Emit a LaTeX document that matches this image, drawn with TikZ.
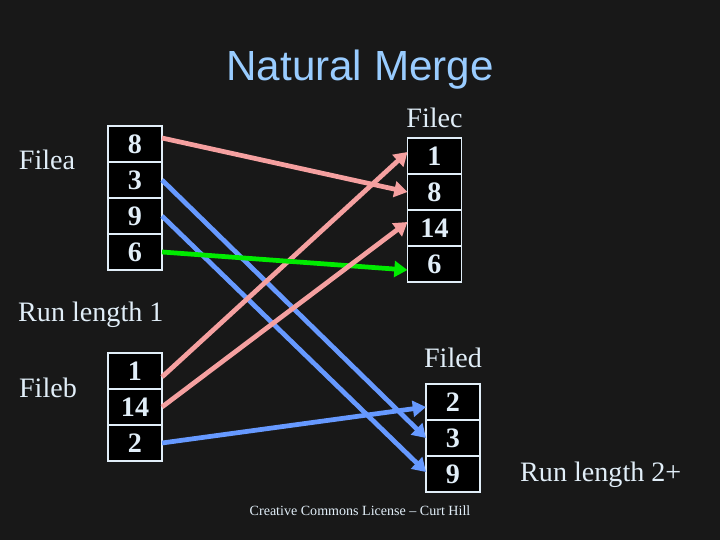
\documentclass[tikz,border=0pt]{standalone}
\usepackage{fontspec}
\setmainfont{Liberation Serif}
\newfontfamily\titlefont{Liberation Sans}
\usetikzlibrary{arrows.meta,positioning}

\definecolor{slidebg}{RGB}{24,24,24}
\definecolor{titleblue}{RGB}{153,204,255}
\definecolor{paletext}{RGB}{225,238,248}
\definecolor{runpink}{RGB}{245,160,160}
\definecolor{runblue}{RGB}{102,153,255}
\definecolor{rungreen}{RGB}{0,235,0}

\begin{document}
\begin{tikzpicture}[
    cell/.style={rectangle, draw=paletext, line width=0.9pt, fill=black, minimum width=1.08cm, minimum height=0.72cm, inner sep=0pt, outer sep=0pt, text=paletext, font=\fontsize{16}{16}\selectfont\bfseries},
    tag/.style={text=paletext, font=\fontsize{16}{18}\selectfont},
    arrow/.style={-{Triangle[length=7.5pt, width=9pt]}, line width=2.7pt}
]

% Slide background
\fill[slidebg] (0,0) rectangle (14.4,-10.8);
\useasboundingbox (0,0) rectangle (14.4,-10.8);

\node[text=titleblue, font=\titlefont\fontsize{24}{28}\selectfont] (title) at (7.2,-1.4) {Natural Merge};

% Input files
\node[tag] (filea) at (0.94,-3.2) {Filea};
\node[cell] (a1) at (2.7,-2.88) {8};
\node[cell, below=0pt of a1] (a2) {3};
\node[cell, below=0pt of a2] (a3) {9};
\node[cell, below=0pt of a3] (a4) {6};

\node[tag, anchor=west] (run1) at (0.24,-6.3) {Run length 1};

\node[tag] (fileb) at (0.96,-7.76) {Fileb};
\node[cell] (b1) at (2.7,-7.42) {1};
\node[cell, below=0pt of b1] (b2) {14};
\node[cell, below=0pt of b2] (b3) {2};

% Output files
\node[cell] (c1) at (8.69,-3.12) {1};
\node[cell, below=0pt of c1] (c2) {8};
\node[cell, below=0pt of c2] (c3) {14};
\node[cell, below=0pt of c3] (c4) {6};
\node[tag, above=0.08cm of c1] (filec) {Filec};

\node[cell] (d1) at (9.06,-8.04) {2};
\node[cell, below=0pt of d1] (d2) {3};
\node[cell, below=0pt of d2] (d3) {9};
\node[tag, above=0.2cm of d1] (filed) {Filed};

\node[tag, anchor=west] (run2) at (10.28,-9.5) {Run length 2+};

\node[text=paletext, font=\fontsize{8}{10}\selectfont] (credit) at (7.2,-10.22) {Creative Commons License -- Curt Hill};

% Merge moves
\draw[arrow, runblue] (a2.east) -- (d2.west);
\draw[arrow, runblue] (a3.east) -- ([yshift=0.04cm]d3.west);
\draw[arrow, runblue] (b3.east) -- ([yshift=-0.1cm]d1.west);

\draw[arrow, runpink] ([yshift=0.12cm]a1.east) -- (c2.west);
\draw[arrow, runpink] ([yshift=-0.12cm]b1.east) -- ([yshift=0.08cm]c1.west);
\draw[arrow, rungreen] (a4.east) -- ([yshift=-0.12cm]c4.west);
\draw[arrow, runpink] (b2.east) -- ([yshift=0.12cm]c3.west);

\end{tikzpicture}
\end{document}
